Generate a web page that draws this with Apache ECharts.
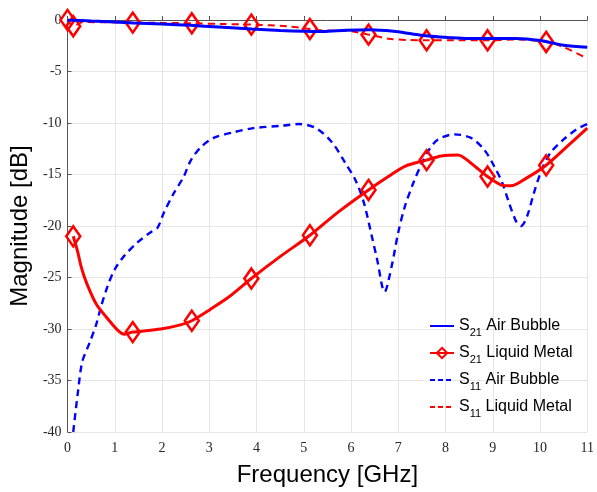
<!DOCTYPE html>
<html>
<head>
<meta charset="utf-8">
<script src="https://cdn.jsdelivr.net/npm/echarts@6/dist/echarts.min.js"></script>
<style>
  html, body { margin: 0; padding: 0; background: #fff; }
  #chart { width: 597px; height: 492px; }
</style>
</head>
<body>
<div id="chart"></div>
<script>
// Frequency axis ticks (GHz) and magnitude axis ticks (dB)
const freqTicks = [0, 1, 2, 3, 4, 5, 6, 7, 8, 9, 10, 11];
const magTicks = [0, -5, -10, -15, -20, -25, -30, -35, -40];

// S21, air bubble (solid blue)
const s21AirFreq = [0, 0.5, 1.0, 1.4, 2.0, 2.6, 3.2, 3.9, 4.5, 5.0, 5.4, 5.9, 6.4, 6.9, 7.3, 7.7, 8.1, 8.5, 9.0, 9.5, 10.0, 10.5, 11.0];
const s21AirDb   = [0, -0.1, -0.2, -0.29, -0.4, -0.52, -0.68, -0.87, -1.02, -1.1, -1.12, -1.0, -0.95, -1.1, -1.35, -1.58, -1.72, -1.8, -1.8, -1.8, -2.0, -2.45, -2.64];

// S21, liquid metal (solid red, diamond markers)
const s21MetalFreq = [0.12, 0.22, 0.29, 0.4, 0.61, 0.85, 1.06, 1.2, 1.38, 1.97, 2.39, 2.63, 3.02, 3.44, 3.89, 4.49, 5.13, 5.74, 6.37, 6.79, 7.14, 7.6, 7.91, 8.26, 8.54, 8.89, 9.17, 9.38, 9.73, 10.13, 10.57, 11.0];
const s21MetalDb   = [-21.0, -22.6, -24.0, -25.5, -27.6, -29.0, -30.1, -30.5, -30.3, -30.0, -29.6, -29.2, -28.1, -26.8, -25.1, -23.0, -20.9, -18.6, -16.5, -15.2, -14.2, -13.6, -13.2, -13.1, -13.9, -15.2, -16.0, -16.1, -15.3, -14.1, -12.3, -10.5];
const s21MetalMarks = [0.12, 1.38, 2.63, 3.89, 5.13, 6.37, 7.6, 8.89, 10.13];

// S11, air bubble (dashed blue)
const s11AirFreq = [0.12, 0.22, 0.31, 0.47, 0.61, 0.71, 0.85, 1.0, 1.2, 1.48, 1.76, 1.9, 2.04, 2.25, 2.46, 2.6, 2.81, 3.09, 3.51, 3.93, 4.55, 4.9, 5.26, 5.6, 5.88, 6.09, 6.27, 6.44, 6.55, 6.71, 6.86, 7.0, 7.14, 7.32, 7.49, 7.65, 7.84, 8.19, 8.54, 8.82, 9.03, 9.2, 9.34, 9.5, 9.6, 9.73, 9.87, 10.04, 10.22, 10.5, 10.78, 11.0];
const s11AirDb   = [-40.0, -36.1, -33.2, -31.3, -29.5, -27.8, -25.8, -24.2, -22.9, -21.6, -20.6, -20.2, -18.7, -16.8, -15.2, -13.7, -12.4, -11.45, -10.9, -10.5, -10.26, -10.1, -10.5, -11.9, -13.9, -15.5, -17.7, -21.0, -23.2, -26.4, -23.9, -20.6, -18.1, -15.8, -14.0, -12.6, -11.6, -11.1, -11.45, -12.6, -14.2, -15.8, -17.7, -19.6, -20.0, -19.0, -16.8, -14.5, -12.9, -11.6, -10.6, -10.1];

// S11, liquid metal (dashed red, diamond markers)
const s11MetalFreq = [0, 0.12, 0.33, 0.8, 1.38, 2.0, 2.63, 3.26, 3.89, 4.66, 5.13, 5.33, 6.0, 6.37, 6.79, 7.2, 7.6, 8.2, 8.89, 9.52, 10.13, 10.5, 11.0];
const s11MetalDb   = [0, -0.6, -0.2, -0.22, -0.25, -0.28, -0.32, -0.39, -0.45, -0.62, -0.88, -1.0, -1.1, -1.42, -1.81, -1.94, -1.97, -1.97, -1.97, -1.9, -2.13, -2.64, -3.75];
const s11MetalMarks = [0, 0.12, 1.38, 2.63, 3.89, 5.13, 6.37, 7.6, 8.89, 10.13];

const seriesNames = ['S21 Air Bubble', 'S21 Liquid Metal', 'S11 Air Bubble', 'S11 Liquid Metal'];

const BLUE = '#0000ff';
const RED = '#ff0000';

function pairs(xs, ys) {
  return xs.map((x, i) => [x, ys[i]]);
}

// Points listed in `marks` get a diamond, every other point stays bare
function marked(xs, ys, marks, markSymbol, plainSymbol) {
  return xs.map((x, i) => ({
    value: [x, ys[i]],
    symbol: marks.includes(x) ? markSymbol : plainSymbol
  }));
}

const diamondStyle = { color: 'rgba(0,0,0,0)', borderColor: RED, borderWidth: 2.6 };

// Legend entries: only the solid red one carries a diamond; dashed ones use a short dash
const hiddenMark = { color: 'rgba(0,0,0,0)', borderColor: 'rgba(0,0,0,0)', borderWidth: 0 };
const shortDash = { type: [5, 3], width: 2 };
const legendItems = [
  { name: seriesNames[0], itemStyle: hiddenMark },
  { name: seriesNames[1], itemStyle: { color: 'rgba(0,0,0,0)', borderColor: RED, borderWidth: 2 } },
  { name: seriesNames[2], itemStyle: hiddenMark, lineStyle: shortDash },
  { name: seriesNames[3], itemStyle: hiddenMark, lineStyle: shortDash }
];

const chart = echarts.init(document.getElementById('chart'), null, { renderer: 'canvas' });

chart.setOption({
  animation: false,
  backgroundColor: '#ffffff',
  grid: { left: 66, right: 6, top: 20, bottom: 59, containLabel: false },
  xAxis: {
    type: 'value',
    min: freqTicks[0],
    max: freqTicks[freqTicks.length - 1],
    interval: 1,
    name: 'Frequency [GHz]',
    nameLocation: 'middle',
    nameGap: 31,
    nameTextStyle: { fontFamily: 'Liberation Sans', fontSize: 24, color: '#000' },
    axisLine: { lineStyle: { color: '#555', width: 1 } },
    axisTick: { show: true, inside: true, length: 4, lineStyle: { color: '#555' } },
    axisLabel: { fontFamily: 'Liberation Serif', fontSize: 14, color: '#262626', margin: 9 },
    splitLine: { show: true, lineStyle: { color: '#e6e6e6', width: 1 } }
  },
  yAxis: {
    type: 'value',
    min: magTicks[magTicks.length - 1],
    max: magTicks[0],
    interval: 5,
    name: 'Magnitude [dB]',
    nameLocation: 'middle',
    nameGap: 35,
    nameTextStyle: { fontFamily: 'Liberation Sans', fontSize: 24, color: '#000' },
    axisLine: { show: true, lineStyle: { color: '#555', width: 1 } },
    axisTick: { show: true, inside: true, length: 4, lineStyle: { color: '#555' } },
    axisLabel: { fontFamily: 'Liberation Serif', fontSize: 14, color: '#262626', margin: 6 },
    splitLine: { show: true, lineStyle: { color: '#e6e6e6', width: 1 } }
  },
  legend: {
    orient: 'vertical',
    left: 429,
    top: 318,
    padding: 0,
    itemGap: 7,
    itemWidth: 24,
    itemHeight: 13,
    lineStyle: { width: 2 },
    data: legendItems,
    formatter: function (name) {
      const m = name.match(/^S(\d+) (.*)$/);
      return '{s|S}{sub|' + m[1] + '}{s| ' + m[2] + '}';
    },
    textStyle: {
      rich: {
        s: { fontFamily: 'Liberation Sans', fontSize: 16, color: '#000', lineHeight: 24 },
        sub: { fontFamily: 'Liberation Sans', fontSize: 11, color: '#000', lineHeight: 11, verticalAlign: 'bottom' }
      }
    }
  },
  series: [
    {
      name: seriesNames[0],
      type: 'line',
      smooth: 0.3,
      symbol: 'none',
      data: pairs(s21AirFreq, s21AirDb),
      lineStyle: { color: BLUE, width: 3 },
      itemStyle: { color: BLUE },
      z: 3
    },
    {
      name: seriesNames[1],
      type: 'line',
      smooth: 0.3,
      symbol: 'diamond',
      symbolSize: [14, 20],
      data: marked(s21MetalFreq, s21MetalDb, s21MetalMarks, 'diamond', 'none'),
      lineStyle: { color: RED, width: 3 },
      itemStyle: diamondStyle,
      z: 4
    },
    {
      name: seriesNames[2],
      type: 'line',
      smooth: 0.3,
      symbol: 'none',
      data: pairs(s11AirFreq, s11AirDb),
      lineStyle: { color: BLUE, width: 2.4, type: [7, 5] },
      itemStyle: { color: BLUE },
      z: 2
    },
    {
      name: seriesNames[3],
      type: 'line',
      smooth: 0.3,
      symbol: 'none',
      symbolSize: [14, 20],
      data: marked(s11MetalFreq, s11MetalDb, s11MetalMarks, 'diamond', 'none'),
      lineStyle: { color: RED, width: 2, type: [7, 5] },
      itemStyle: diamondStyle,
      z: 2
    }
  ]
});
</script>
</body>
</html>
